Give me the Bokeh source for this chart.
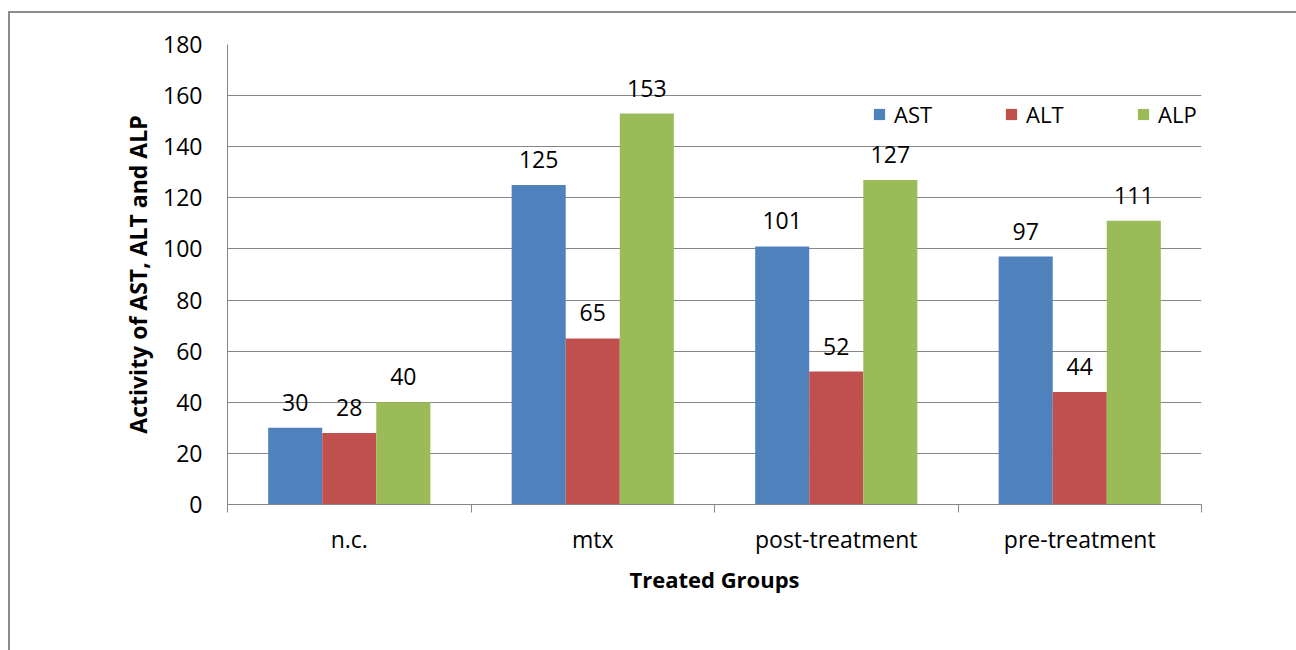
from bokeh.plotting import figure
from bokeh.models import FixedTicker, Legend, LegendItem, ColumnDataSource, Range1d
from bokeh.core.properties import value
from bokeh.embed import file_html
from bokeh.resources import INLINE

groups = ["n.c.", "mtx", "post-treatment", "pre-treatment"]
series = ["AST", "ALT", "ALP"]
ast = [30, 125, 101, 97]
alt = [28, 65, 52, 44]
alp = [40, 153, 127, 111]
colors = ["#4F81BD", "#C0504D", "#9BBB59"]
y_ticks = [0, 20, 40, 60, 80, 100, 120, 140, 160, 180]

FONT = "Open Sans"
FS = "23px"
GRAY = "#868686"

p = figure(width=1288, height=639, x_range=Range1d(0, len(groups)), y_range=Range1d(0, 180),
           output_backend="svg", toolbar_location=None,
           min_border_left=217, min_border_right=97, min_border_top=31, min_border_bottom=148)
p.margin = (11, 0, 0, 8)
p.styles = {"border-left": "2px solid #8c8c8c", "border-top": "2px solid #8c8c8c"}
p.outline_line_color = None
p.background_fill_color = "white"

bw = 0.222
offsets = [-bw, 0.0, bw]
vals = [ast, alt, alp]
items = []
for name, v, off, col in zip(series, vals, offsets, colors):
    xs = [i + 0.5 + off for i in range(len(groups))]
    src = ColumnDataSource(dict(x=xs, top=v, lab=[str(a) for a in v]))
    r = p.vbar(x="x", top="top", width=bw, source=src, fill_color=col, line_color=None)
    p.text(x="x", y="top", text="lab", source=src, text_align="center", text_baseline="bottom",
           y_offset=-17, text_font=value(FONT), text_font_size=FS, text_color="black")
    items.append(LegendItem(label=name, renderers=[r]))

legend = Legend(items=items, orientation="horizontal", location=(645, 375),
                glyph_width=14, glyph_height=14, label_standoff=8, label_width=100, spacing=10,
                padding=0, margin=0, border_line_color=None, background_fill_alpha=0,
                label_text_font=FONT, label_text_font_size="22px", label_text_color="black")
p.add_layout(legend, "center")

# y axis
p.yaxis.ticker = FixedTicker(ticks=y_ticks)
p.yaxis.axis_line_color = GRAY
p.yaxis.major_tick_out = 0
p.yaxis.major_tick_in = 0
p.yaxis.minor_tick_line_color = None
p.yaxis.major_label_text_font = FONT
p.yaxis.major_label_text_font_size = FS
p.yaxis.major_label_text_color = "black"
p.yaxis.major_label_standoff = 25
p.yaxis.axis_label = "Activity of AST, ALT and ALP"
p.yaxis.axis_label_text_font = FONT
p.yaxis.axis_label_text_font_style = "bold"
p.yaxis.axis_label_text_font_size = "23px"
p.yaxis.axis_label_text_color = "black"
p.yaxis.axis_label_standoff = 6
p.ygrid.ticker = FixedTicker(ticks=y_ticks)
p.ygrid.grid_line_color = GRAY
p.xgrid.grid_line_color = None

# x axis
centers = [i + 0.5 for i in range(len(groups))]
bounds = list(range(len(groups) + 1))
p.xaxis.ticker = FixedTicker(ticks=centers, minor_ticks=bounds)
p.xaxis.major_label_overrides = {c: g for c, g in zip(centers, groups)}
p.xaxis.major_tick_line_color = None
p.xaxis.minor_tick_line_color = GRAY
p.xaxis.minor_tick_out = 8
p.xaxis.minor_tick_in = 0
p.xaxis.axis_line_color = GRAY
p.xaxis.major_label_text_font = FONT
p.xaxis.major_label_text_font_size = FS
p.xaxis.major_label_text_color = "black"
p.xaxis.major_label_standoff = 10
p.xaxis.axis_label = "Treated Groups"
p.xaxis.axis_label_text_font = FONT
p.xaxis.axis_label_text_font_style = "bold"
p.xaxis.axis_label_text_font_size = "22px"
p.xaxis.axis_label_text_color = "black"
p.xaxis.axis_label_standoff = 6

open("out.html", "w").write(file_html(p, INLINE))
